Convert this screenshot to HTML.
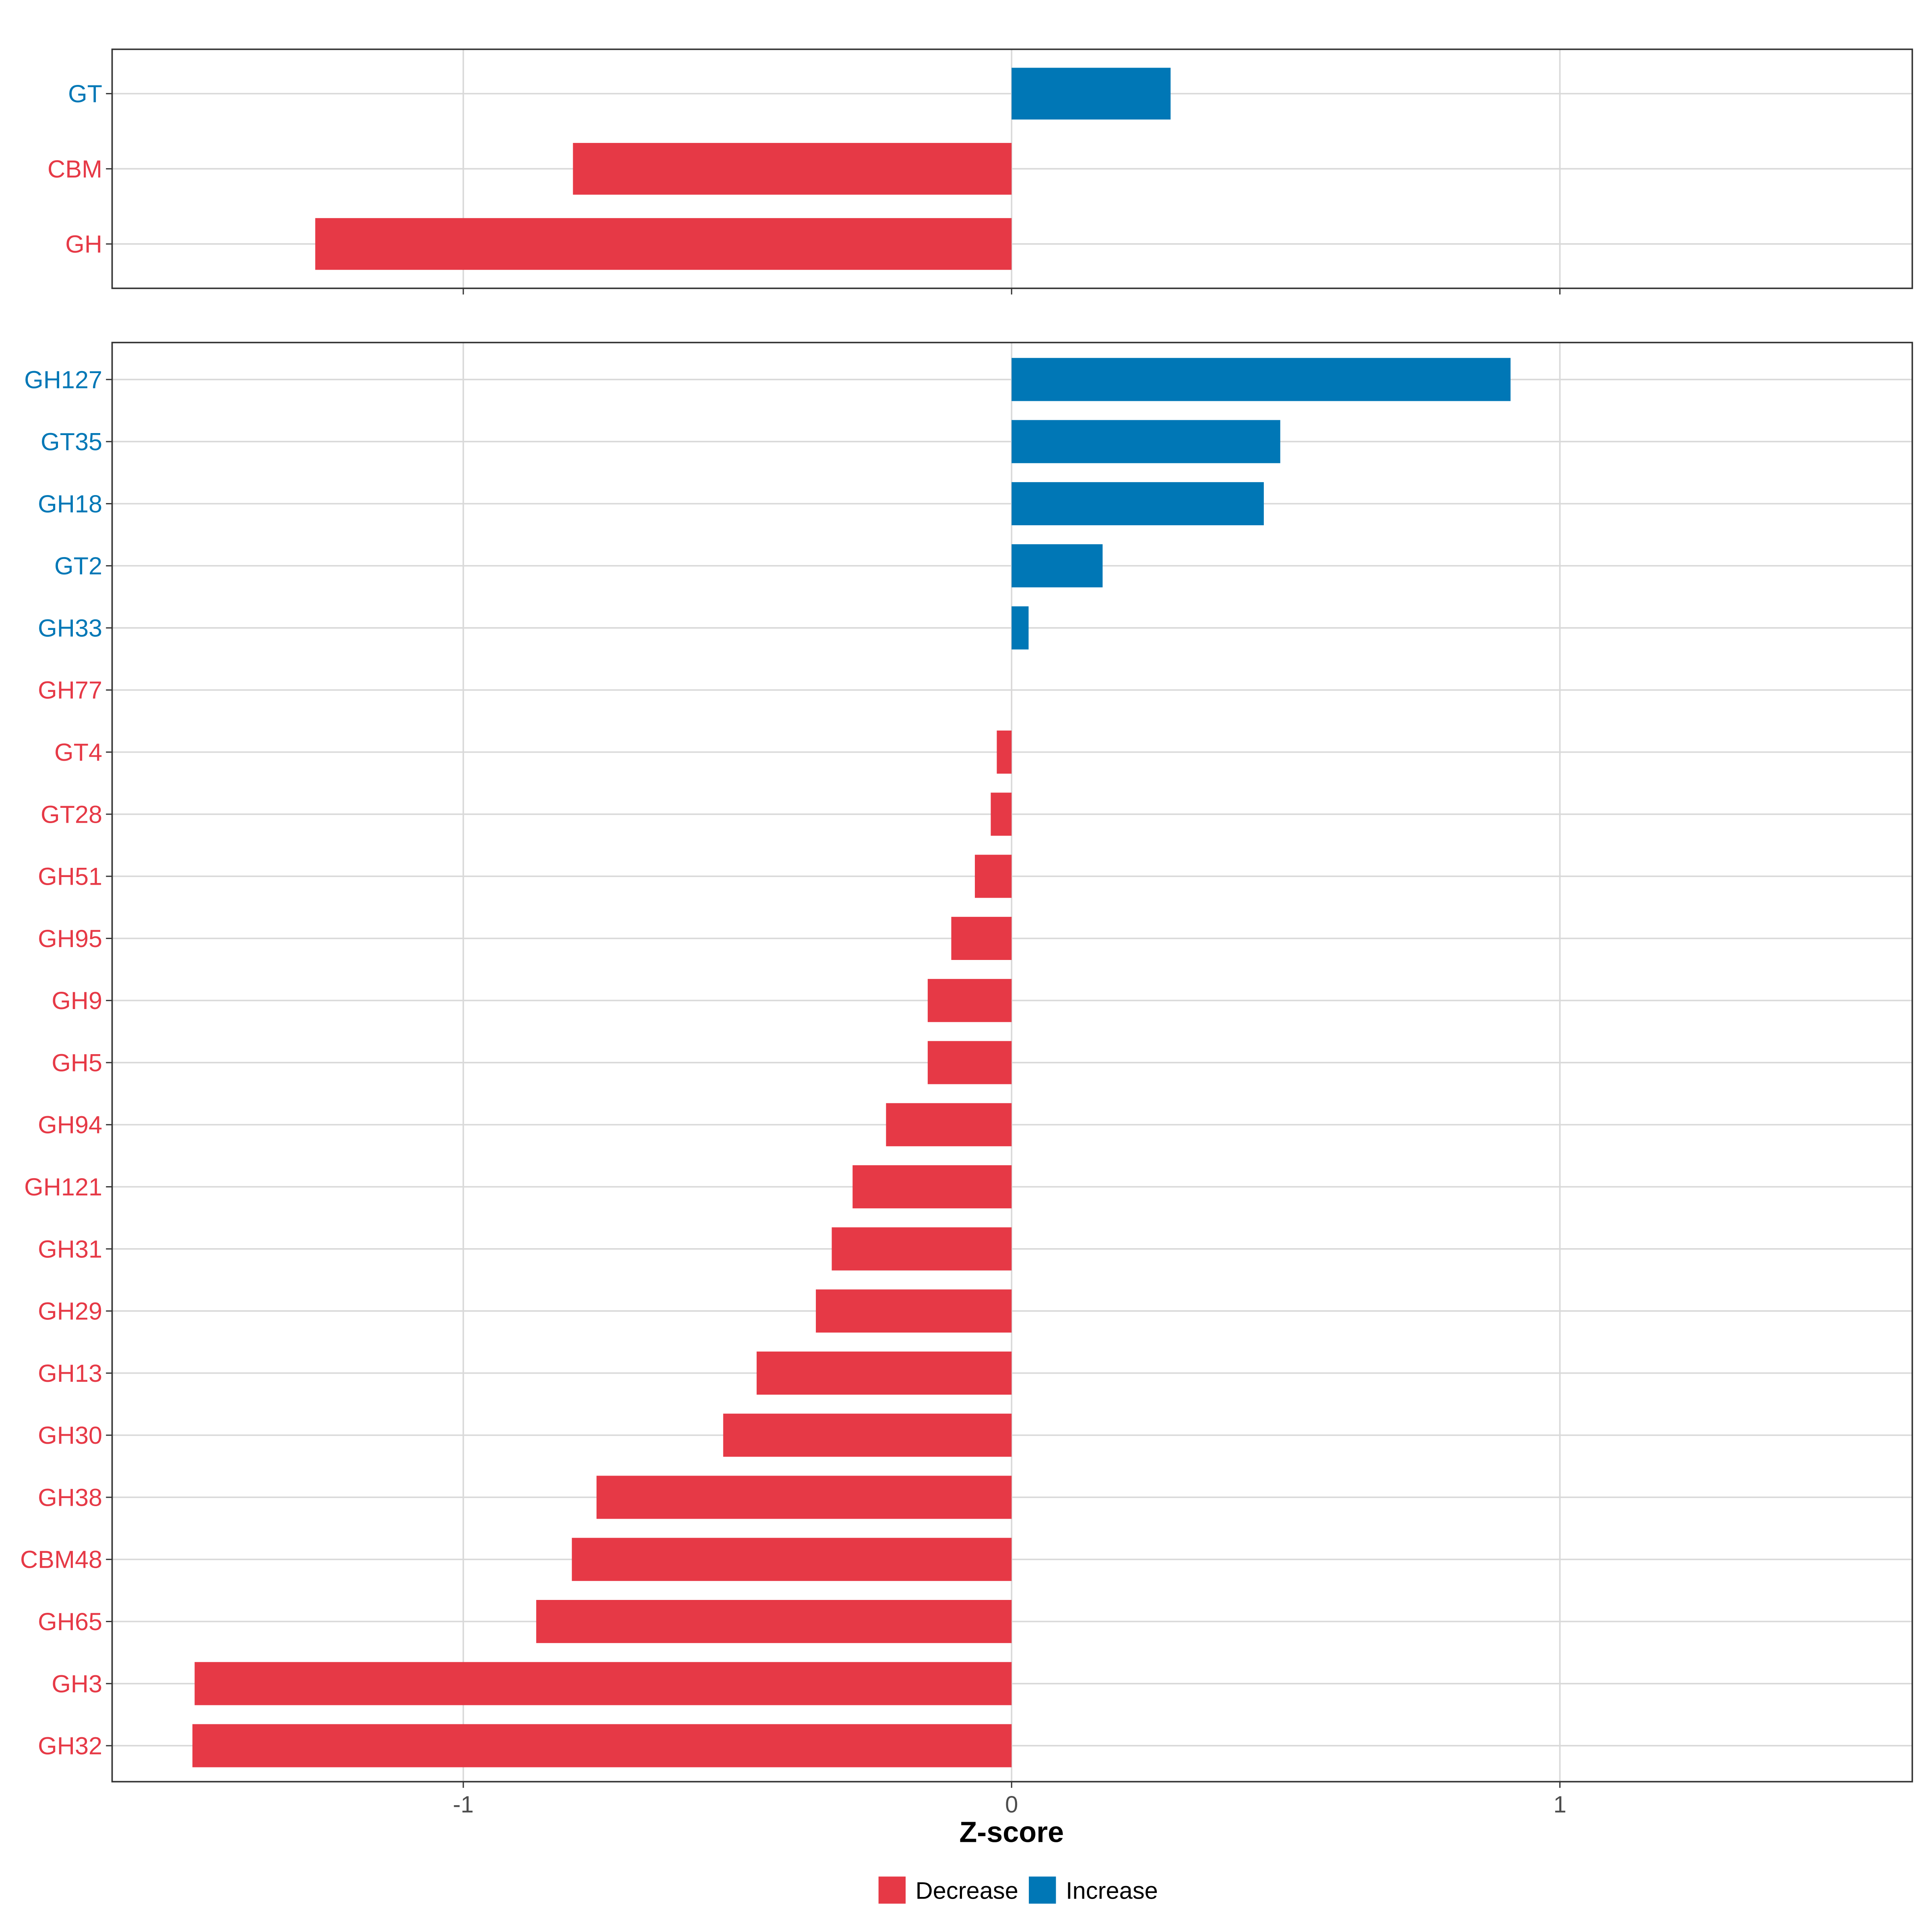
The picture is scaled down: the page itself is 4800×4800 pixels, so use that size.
<!DOCTYPE html>
<html><head><meta charset="utf-8"><style>html,body{margin:0;padding:0;background:#fff}svg{display:block}</style></head>
<body>
<svg id="chart" width="4800" height="4800" viewBox="0 0 1568 1568" xmlns="http://www.w3.org/2000/svg" font-family="Liberation Sans, Arial, sans-serif">
<rect width="1568" height="1568" fill="#fff"/>
<g id="top"></g>
<g id="bottom"></g>
<text x="821" y="1495" text-anchor="middle" font-size="23.5" font-weight="bold">Z-score</text>
<g>
<rect x="713" y="1523" width="22" height="22" fill="#E63946"/>
<text x="743" y="1541" font-size="19.5">Decrease</text>
<rect x="835" y="1523" width="22" height="22" fill="#0077B6"/>
<text x="865" y="1541" font-size="19.5">Increase</text>
</g>
<script>
const topCats=["GT","CBM","GH"];
const topVals=[0.29,-0.80,-1.27];
const botCats=["GH127","GT35","GH18","GT2","GH33","GH77","GT4","GT28","GH51","GH95","GH9","GH5","GH94","GH121","GH31","GH29","GH13","GH30","GH38","CBM48","GH65","GH3","GH32"];
const botVals=[0.91,0.49,0.46,0.166,0.031,0,-0.027,-0.038,-0.067,-0.11,-0.153,-0.153,-0.229,-0.29,-0.328,-0.357,-0.465,-0.526,-0.757,-0.802,-0.867,-1.49,-1.494];
const xTicks=[-1,0,1];
const xTickLabels=["-1","0","1"];
const NS="http://www.w3.org/2000/svg";
const RED="#E63946",BLUE="#0077B6";
function xs(v){return 821+v*445;}
function mk(tag,attrs,parent){const e=document.createElementNS(NS,tag);for(const k in attrs)e.setAttribute(k,attrs[k]);parent.appendChild(e);return e;}
function panel(g,cats,vals,y0,y1,firstY,step,half,showTickLabels,name){
  mk('rect',{x:91,y:y0,width:1461,height:y1-y0,fill:'#fff'},g);
  xTicks.forEach((t)=>{const l=mk('line',{x1:xs(t),x2:xs(t),y1:y0,y2:y1,stroke:'#d9d9d9','stroke-width':1.2},g);
    
    });
  cats.forEach((c,i)=>{const y=firstY+i*step;
    const l=mk('line',{x1:91,x2:1552,y1:y,y2:y,stroke:'#d9d9d9','stroke-width':1.2},g);
    
    
  });
  cats.forEach((c,i)=>{const y=firstY+i*step;const v=vals[i];const col=v>0?BLUE:RED;
    const a=Math.min(xs(0),xs(v)),w=Math.abs(xs(v)-xs(0));
    const b=mk('rect',{x:a,y:y-half,width:Math.max(w,0.01),height:half*2,fill:col},g);
    
    
    const tk=mk('line',{x1:86,x2:91,y1:y,y2:y,stroke:'#333','stroke-width':1},g);
    
    
    const t=mk('text',{x:83,y:y+7,'text-anchor':'end','font-size':20,fill:col},g);t.textContent=c;
    
    
  });
  xTicks.forEach((t,i)=>{const tk=mk('line',{x1:xs(t),x2:xs(t),y1:y1,y2:y1+5,stroke:'#333','stroke-width':1},g);
    
    
    if(showTickLabels){const tx=mk('text',{x:xs(t),y:y1+25,'text-anchor':'middle','font-size':19,fill:'#4d4d4d'},g);tx.textContent=xTickLabels[i];
      
      }
  });
  const fr=mk('rect',{x:91,y:y0,width:1461,height:y1-y0,fill:'none',stroke:'#333','stroke-width':1.2},g);
  
  
}
panel(document.getElementById('top'),topCats,topVals,40,234,76,61,21,false,'top-panel');
panel(document.getElementById('bottom'),botCats,botVals,278,1446,308,50.4,17.5,true,'bottom-panel');
</script>
</svg>
</body></html>
